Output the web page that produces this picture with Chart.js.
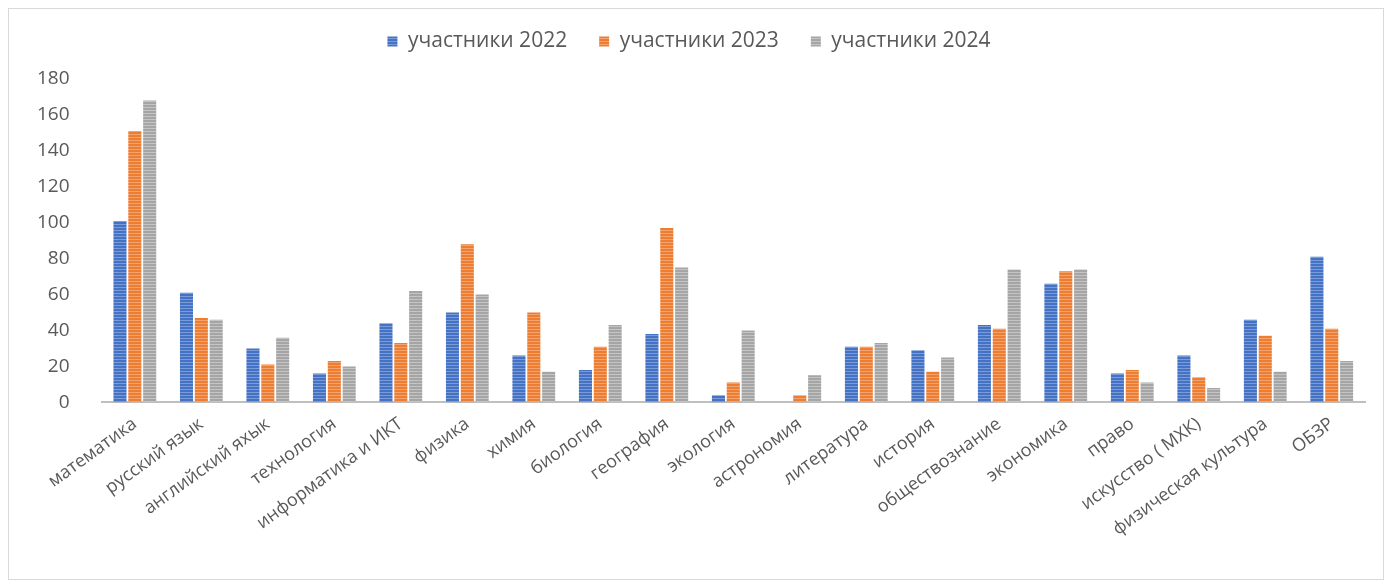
<!DOCTYPE html>
<html>
<head>
<meta charset="utf-8">
<script src="https://cdn.jsdelivr.net/npm/chart.js@4"></script>
<style>
    body { margin: 0; background: #fff; }
    #frame {
        position: absolute; left: 8px; top: 8px;
        width: 1376px; height: 572px;
        border: 1px solid #d9d9d9; box-sizing: border-box;
    }
</style>
</head>
<body>
<div id="frame"><canvas id="chart"></canvas></div>
<script>
// Data
const subjects = ['математика', 'русский язык', 'английский яхык', 'технология', 'информатика и ИКТ',
    'физика', 'химия', 'биология', 'география', 'экология', 'астрономия', 'литература', 'история',
    'обществознание', 'экономика', 'право', 'искусство ( МХК)', 'физическая культура', 'ОБЗР'];
const participants2022 = [101, 61, 30, 16, 44, 50, 26, 18, 38, 4, 0, 31, 29, 43, 66, 16, 26, 46, 81];
const participants2023 = [151, 47, 21, 23, 33, 88, 50, 31, 97, 11, 4, 31, 17, 41, 73, 18, 14, 37, 41];
const participants2024 = [168, 46, 36, 20, 62, 60, 17, 43, 75, 40, 15, 33, 25, 74, 74, 11, 8, 17, 23];
const seriesNames = ['участники 2022', 'участники 2023', 'участники 2024'];
const seriesColors = ['#4472C4', '#ED7D31', '#A5A5A5'];
const stripeColors = ['#7A9BD6', '#F3A36F', '#C4C4C4'];

// Striped fill like the original bars
function makeStripes(base, light) {
    const c = document.createElement('canvas');
    c.width = 4;
    c.height = 3;
    const ctx = c.getContext('2d');
    ctx.fillStyle = base;
    ctx.fillRect(0, 0, 4, 3);
    ctx.fillStyle = light;
    ctx.fillRect(0, 2, 4, 1);
    return ctx.createPattern(c, 'repeat');
}

// Extra space under the legend
const legendGap = {
    id: 'legendGap',
    beforeInit(chart) {
        const fit = chart.legend.fit;
        chart.legend.fit = function() {
            fit.bind(chart.legend)();
            this.height += 17;
        };
    }
};

const allValues = [participants2022, participants2023, participants2024];

new Chart(document.getElementById('chart'), {
    type: 'bar',
    data: {
        labels: subjects,
        datasets: allValues.map((vals, i) => ({
            label: seriesNames[i],
            data: vals,
            backgroundColor: makeStripes(seriesColors[i], stripeColors[i]),
            borderWidth: 0,
            categoryPercentage: 0.67,
            barPercentage: 0.88
        }))
    },
    plugins: [legendGap],
    options: {
        responsive: true,
        maintainAspectRatio: false,
        animation: false,
        layout: {
            padding: { left: 4, right: 18, top: -10, bottom: 36 }
        },
        plugins: {
            legend: {
                position: 'top',
                labels: {
                    boxWidth: 10,
                    boxHeight: 10,
                    padding: 32,
                    color: '#595959',
                    font: { family: 'Open Sans', size: 21 }
                }
            },
            tooltip: { enabled: false }
        },
        scales: {
            y: {
                min: 0,
                max: 180,
                ticks: {
                    stepSize: 20,
                    padding: 24,
                    color: '#595959',
                    font: { family: 'Open Sans', size: 19 }
                },
                grid: { display: false },
                border: { display: false }
            },
            x: {
                ticks: {
                    minRotation: 36,
                    maxRotation: 36,
                    autoSkip: false,
                    color: '#595959',
                    font: { family: 'Open Sans', size: 18 }
                },
                grid: { display: false },
                border: { color: '#BFBFBF', width: 2 }
            }
        }
    }
});
</script>
</body>
</html>
